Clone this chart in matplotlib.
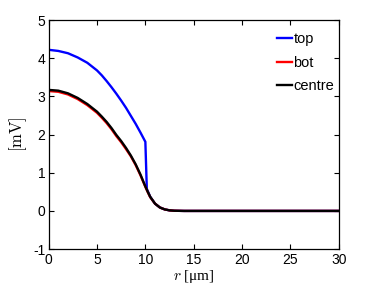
import matplotlib
matplotlib.use("Agg")
import matplotlib.pyplot as plt

# values (r in um, potential in mV)
r_top = [0, 1, 2, 3, 4, 5, 5.5, 6, 6.5, 7, 7.5, 8, 8.5, 9, 9.5, 10, 10.15,
         10.5, 11, 11.5, 12, 12.5, 13, 14, 30]
v_top = [4.22, 4.19, 4.13, 4.02, 3.88, 3.68, 3.55, 3.40, 3.24, 3.07, 2.89, 2.70, 2.49,
         2.28, 2.05, 1.81, 0.58, 0.37, 0.19, 0.09, 0.04, 0.015, 0.005, 0.0, 0.0]

r_mid = [0, 1, 2, 3, 4, 5, 5.5, 6, 6.5, 7, 7.5, 8, 8.5, 9, 9.5, 10, 10.25,
         10.5, 11, 11.5, 12, 12.5, 13, 14, 30]
v_centre = [3.17, 3.15, 3.08, 2.96, 2.80, 2.60, 2.47, 2.33, 2.17, 1.99, 1.83, 1.65, 1.45,
            1.22, 0.95, 0.64, 0.50, 0.37, 0.19, 0.09, 0.04, 0.015, 0.005, 0.0, 0.0]
v_bot = [3.14, 3.12, 3.05, 2.93, 2.77, 2.57, 2.44, 2.30, 2.14, 1.96, 1.80, 1.62, 1.43,
         1.20, 0.93, 0.63, 0.49, 0.36, 0.19, 0.09, 0.04, 0.015, 0.005, 0.0, 0.0]

x_ticks = [0, 5, 10, 15, 20, 25, 30]
y_ticks = [-1, 0, 1, 2, 3, 4, 5]

plt.rcParams['font.family'] = ['Liberation Sans', 'DejaVu Sans']
plt.rcParams['mathtext.fontset'] = 'cm'
plt.rcParams['axes.unicode_minus'] = False

fig = plt.figure(figsize=(3.74, 2.86), dpi=100)
ax = fig.add_axes([0.130, 0.129, 0.776, 0.801])

ax.plot(r_top, v_top, color='#0000ff', lw=1.7, label='top')
ax.plot(r_mid, v_bot, color='#ff0000', lw=1.7, label='bot')
ax.plot(r_mid, v_centre, color='black', lw=1.7, label='centre')

ax.set_xlim(0, 30)
ax.set_ylim(-1, 5)
ax.set_xticks(x_ticks)
ax.set_yticks(y_ticks)
ax.tick_params(direction='in', top=True, right=True, length=3.5, width=0.8,
               labelsize=10, pad=2.5)
for s in ax.spines.values():
    s.set_linewidth(0.9)

ax.set_xlabel(r'$r$ [μm]', fontsize=11, family=['Liberation Serif', 'DejaVu Serif'],
              labelpad=1)
ax.set_ylabel(r'$[\mathrm{mV}]$', fontsize=12, labelpad=3)

ax.legend(loc='upper right', bbox_to_anchor=(1.004, 0.972), frameon=False,
          fontsize=10.5, handlelength=1.0, handletextpad=0.1, labelspacing=0.65,
          borderaxespad=0)

fig.savefig('out.png', dpi=100)
